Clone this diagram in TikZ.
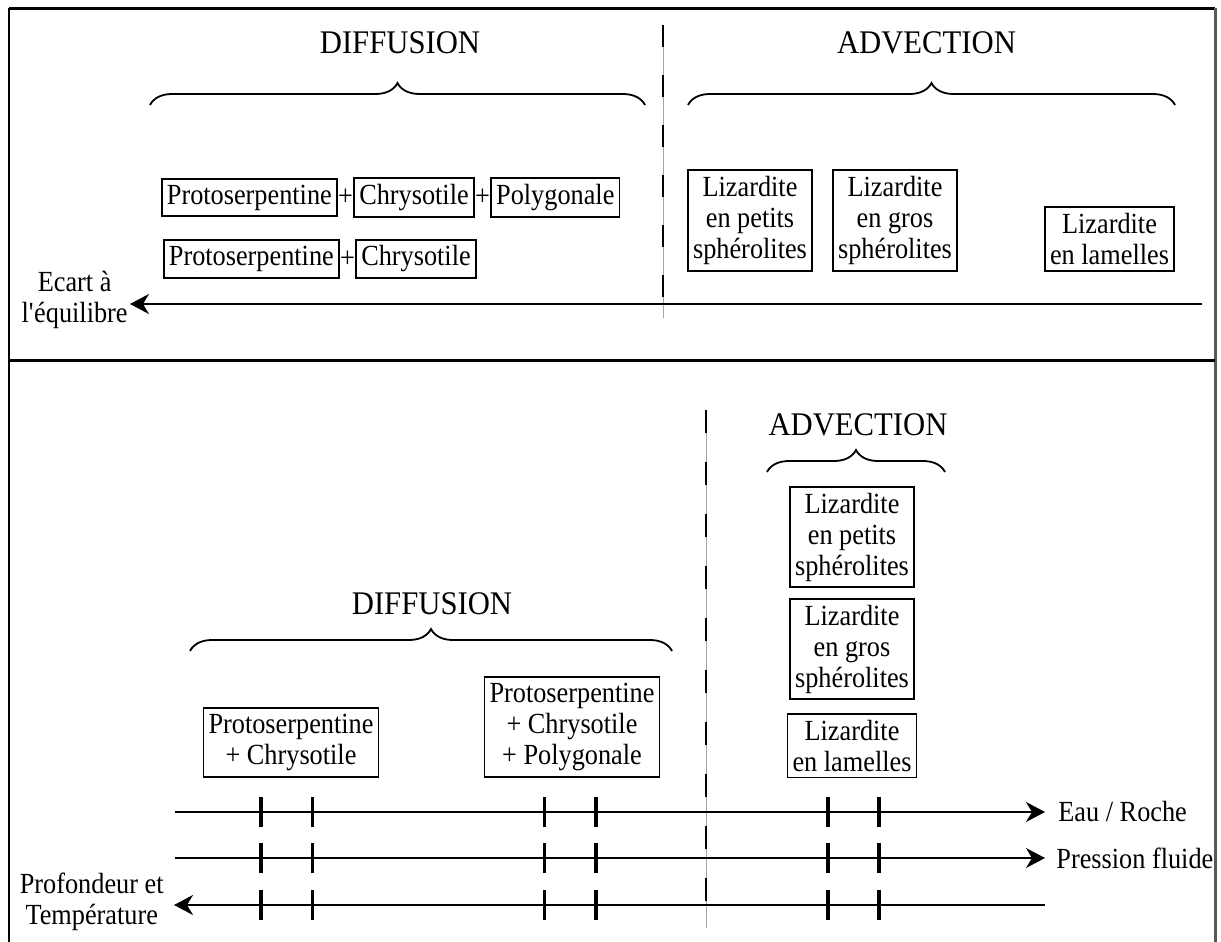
\documentclass[tikz,border=0pt]{standalone}
\usepackage{fontspec}
\setmainfont{Liberation Serif}
\newfontfamily\narrowserif{Liberation Serif}[FakeStretch=0.9]
\newfontfamily\headserif{Liberation Serif}[FakeStretch=0.93]
\usetikzlibrary{arrows.meta,decorations.pathreplacing}

\newcommand\boxfont{\narrowserif\fontsize{14.6pt}{15.5pt}\selectfont}
\newcommand\headfont{\headserif\fontsize{16.5pt}{18pt}\selectfont}

\begin{document}
\begin{tikzpicture}[x=0.5pt,y=-0.5pt,>={Stealth[length=9.5pt,width=10pt,inset=3pt]},
    mineral/.style={draw,line width=0.9pt,align=center,inner xsep=2.5pt,
      inner ysep=3pt,font=\boxfont},
    plus/.style={inner sep=0pt,font=\boxfont},
    regime/.style={font=\headfont,inner sep=0pt},
    axislabel/.style={inner sep=0pt,align=center,font=\boxfont},
    axisline/.style={line width=0.9pt},
    ticmark/.style={line width=1.8pt},
    curly/.style={decorate,decoration={brace,amplitude=11pt},line width=0.9pt},
    sepline/.style={line width=1.4pt,dash pattern=on 11pt off 14pt}]
  \useasboundingbox (0,0) rectangle (1221,942);

  % frame
  \draw[line width=1.5pt] (9,8) -- (1215,8);
  \draw[line width=0.8pt] (9,8) -- (9,942);
  \draw[line width=1.5pt,black!65] (1215,8) -- (1215,942);
  \draw[line width=1.2pt] (9,360.5) -- (1215,360.5);

  % upper panel
  \node[regime] (difA) at (400,42.5) {DIFFUSION};
  \node[regime] (advA) at (926.5,42.5) {ADVECTION};
  \draw[curly] (150,105) -- (645,105);
  \draw[curly] (688,105) -- (1175,105);

  \draw[gray!70,line width=0.4pt] (663,25) -- (663,318);
  \draw[sepline] (663,25) -- (663,318);

  \node[mineral,anchor=west] (protoA) at (161,197.5) {Protoserpentine};
  \node[plus,anchor=west] (plusA) at (protoA.east) {+};
  \node[mineral,anchor=west] (chrysA) at (plusA.east) {Chrysotile};
  \node[plus,anchor=west] (plusB) at (chrysA.east) {+};
  \node[mineral,anchor=west] (polyA) at (plusB.east) {Polygonale};

  \node[mineral,anchor=west] (protoB) at (163,259) {Protoserpentine};
  \node[plus,anchor=west] (plusC) at (protoB.east) {+};
  \node[mineral,anchor=west] (chrysB) at (plusC.east) {Chrysotile};

  \node[mineral,anchor=south] (petitsA) at (750,271.5)
    {Lizardite\\en petits\\sphérolites};
  \node[mineral,anchor=south] (grosA) at (895,271.5)
    {Lizardite\\en gros\\sphérolites};
  \node[mineral,anchor=south] (lamA) at (1109.5,271.5)
    {Lizardite\\en lamelles};

  \coordinate (eqR) at (1202,304);
  \coordinate (eqL) at (130,304);
  \draw[axisline,->] (eqR) -- (eqL);
  \node[axislabel,anchor=east] (ecart) at ([shift={(-1pt,2pt)}]eqL)
    {Ecart à\\l\textquotesingle équilibre};

  % lower panel
  \node[regime] (advB) at (858,425) {ADVECTION};
  \node[regime] (difB) at (432,604) {DIFFUSION};
  \draw[curly] (767,472) -- (945,472);
  \draw[curly] (190,651) -- (672,651);

  \draw[gray!70,line width=0.4pt] (706,410) -- (706,928);
  \draw[sepline,dash pattern=on 11.5pt off 14.5pt] (706,410) -- (706,928);

  \node[mineral,anchor=south] (protoC) at (291,777.5)
    {Protoserpentine\\+ Chrysotile};
  \node[mineral,anchor=south] (protoD) at (572,777.5)
    {Protoserpentine\\+ Chrysotile\\+ Polygonale};
  \node[mineral,anchor=north] (petitsB) at (852,486)
    {Lizardite\\en petits\\sphérolites};
  \node[mineral,anchor=north] (grosB) at (852,598)
    {Lizardite\\en gros\\sphérolites};
  \node[mineral,anchor=north] (lamB) at (852,713)
    {Lizardite\\en lamelles};

  \coordinate (eauS) at (175,812);
  \coordinate (eauE) at (1045,812);
  \coordinate (presS) at (175,858);
  \coordinate (presE) at (1045,858);
  \coordinate (profS) at (1045,905);
  \coordinate (profE) at (174,905);
  \draw[axisline,->] (eauS) -- (eauE);
  \draw[axisline,->] (presS) -- (presE);
  \draw[axisline,->] (profS) -- (profE);
  \node[axislabel,anchor=west] (eau) at ([xshift=6.5pt]eauE) {Eau / Roche};
  \node[axislabel,anchor=west] (pres) at ([xshift=5.5pt]presE) {Pression fluide};
  \node[axislabel,anchor=east] (prof) at ([shift={(-5pt,1.5pt)}]profE)
    {Profondeur et\\Température};

  \foreach \y in {812,858,905}
    \foreach \x in {261,312.5,544.5,596,828,879}
      \draw[ticmark] (\x,\y-15) -- (\x,\y+15);
\end{tikzpicture}
\end{document}
